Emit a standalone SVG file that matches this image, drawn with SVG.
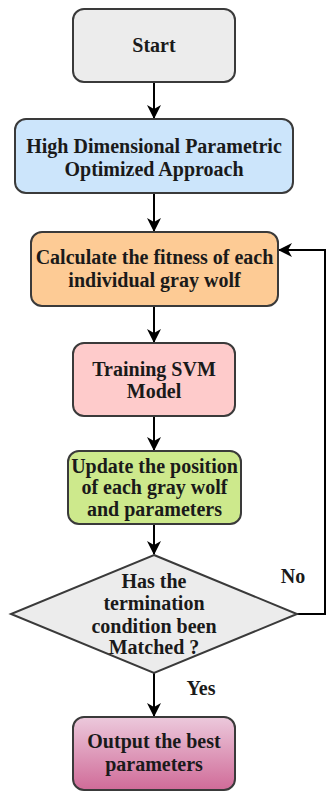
<svg xmlns="http://www.w3.org/2000/svg" width="328" height="792" viewBox="0 0 328 792">
<style>
.box{stroke:#3a3a3a;stroke-width:2}
.t{font-family:"Liberation Serif","Times New Roman",serif;font-weight:bold;font-size:20px;fill:#1a1a1a;text-anchor:middle}
.c{fill:none;stroke:#000;stroke-width:2}
</style>
<defs>
<marker id="ah" markerUnits="userSpaceOnUse" markerWidth="16" markerHeight="16" viewBox="0 0 16 16" refX="14" refY="8" orient="auto">
<path d="M1,1 L15,8 L1,15 L5,8 Z" fill="#000"/>
</marker>
<linearGradient id="g" x1="0" y1="0" x2="0" y2="1">
<stop offset="0" stop-color="#ecc9dc"/>
<stop offset="1" stop-color="#d06b98"/>
</linearGradient>
</defs>
<g id="connectors">
<line class="c" x1="154" y1="82" x2="154" y2="118" marker-end="url(#ah)"/>
<line class="c" x1="154" y1="193" x2="154" y2="231" marker-end="url(#ah)"/>
<line class="c" x1="154" y1="306" x2="154" y2="342" marker-end="url(#ah)"/>
<line class="c" x1="154" y1="416" x2="154" y2="450" marker-end="url(#ah)"/>
<line class="c" x1="154" y1="524" x2="154" y2="554" marker-end="url(#ah)"/>
<line class="c" x1="154" y1="673" x2="154" y2="716" marker-end="url(#ah)"/>
<polyline class="c" points="297,614 325,614 325,250 279,250" marker-end="url(#ah)"/>
<text class="t" x="293" y="583">No</text>
<text class="t" x="201" y="695">Yes</text>
</g>
<g id="start">
<rect class="box" x="73" y="9" width="162" height="73" rx="11" fill="#ececec"/>
<text class="t" x="154" y="52">Start</text>
</g>
<g id="hdpoa">
<rect class="box" x="15" y="119" width="278" height="74" rx="11" fill="#cce5fb"/>
<text class="t" x="154" y="152.5">High Dimensional Parametric</text>
<text class="t" x="154" y="175.5">Optimized Approach</text>
</g>
<g id="fitness">
<rect class="box" x="31" y="232" width="247" height="74" rx="11" fill="#fdcb95"/>
<text class="t" x="154.5" y="263.5">Calculate the fitness of each</text>
<text class="t" x="154.5" y="286.5">individual gray wolf</text>
</g>
<g id="svm">
<rect class="box" x="73" y="343" width="162" height="73" rx="11" fill="#fecbcb"/>
<text class="t" x="154" y="376">Training SVM</text>
<text class="t" x="154" y="398">Model</text>
</g>
<g id="update">
<rect class="box" x="68" y="451" width="173" height="73" rx="11" fill="#cde98c"/>
<text class="t" x="154.5" y="473">Update the position</text>
<text class="t" x="154.5" y="494">of each gray wolf</text>
<text class="t" x="154.5" y="515.5">and parameters</text>
</g>
<g id="decision">
<polygon class="box" points="154,555 297,614 154,673 11,614" fill="#ececec"/>
<text class="t" x="154" y="588">Has the</text>
<text class="t" x="154" y="610">termination</text>
<text class="t" x="154" y="632.5">condition been</text>
<text class="t" x="154" y="654">Matched ?</text>
</g>
<g id="output">
<rect class="box" x="73" y="717" width="162" height="73" rx="11" fill="url(#g)"/>
<text class="t" x="154" y="748">Output the best</text>
<text class="t" x="154" y="771">parameters</text>
</g>
</svg>
